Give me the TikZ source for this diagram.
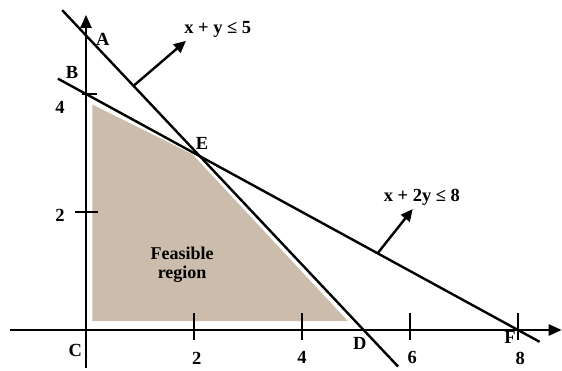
\documentclass[tikz,border=0pt]{standalone}
\usepackage{fontspec}
\setmainfont{Liberation Serif}
\usetikzlibrary{arrows.meta}
\definecolor{feas}{RGB}{203,188,172}
\begin{document}
\begin{tikzpicture}[x=54pt,y=59pt,
  ln/.style={line width=2.4pt},
  ax/.style={line width=2.4pt,-{Triangle[length=13pt,width=11pt]}},
  lbl/.style={font=\bfseries\fontsize{18.5}{20}\selectfont,inner sep=0pt},
  tk/.style={line width=2.2pt}]
\useasboundingbox (-86pt,-40pt) rectangle (476pt,330pt);
% feasible region
\fill[feas] (0.12,0.15) -- (0.12,3.82) -- (1.97,2.98) -- (4.85,0.15) -- cycle;
% axes
\coordinate (xs) at (-1.41,0);
\coordinate (xe) at (8.81,0);
\coordinate (ys) at (0,-0.65);
\coordinate (ye) at (0,5.34);
\draw[ax] (xs) -- (xe);
\draw[ax] (ys) -- (ye);
% ticks
\foreach \i in {2,4,6,8}{
  \coordinate (tx\i a) at (\i,0.28);
  \coordinate (tx\i b) at (\i,-0.17);
  \draw[tk] (tx\i a) -- (tx\i b);
}
\coordinate (ty2a) at (-0.2,2); \coordinate (ty2b) at (0.22,2);
\draw[tk] (ty2a) -- (ty2b);
\coordinate (ty4a) at (-0.08,4); \coordinate (ty4b) at (0.2,4);
\draw[tk] (ty4a) -- (ty4b);
% constraint lines
\coordinate (l1s) at (-0.44,5.42);
\coordinate (l1e) at (5.78,-0.62);
\draw[ln] (l1s) -- (l1e);
\coordinate (l2s) at (-0.52,4.26);
\coordinate (l2e) at (8.4,-0.2);
\draw[ln] (l2s) -- (l2e);
% direction arrows
\coordinate (a1s) at (0.87,4.13);
\coordinate (a1e) at (1.85,4.9);
\draw[ln,-{Triangle[length=12pt,width=11pt]}] (a1s) -- (a1e);
\coordinate (a2s) at (5.4,1.3);
\coordinate (a2e) at (6.05,2.05);
\draw[ln,-{Triangle[length=12pt,width=11pt]}] (a2s) -- (a2e);
% labels
\node[lbl] (c1) at (2.44,5.1) {x + y ≤ 5};
\node[lbl] (c2) at (6.22,2.24) {x + 2y ≤ 8};
\node[lbl] (A) at (0.31,4.92) {A};
\node[lbl] (B) at (-0.26,4.36) {B};
\node[lbl] (y4) at (-0.48,3.78) {4};
\node[lbl] (E) at (2.15,3.17) {E};
\node[lbl] (y2) at (-0.48,1.95) {2};
\node[lbl] (C) at (-0.2,-0.34) {C};
\node[lbl] (x2) at (2.05,-0.48) {2};
\node[lbl] (x4) at (4.0,-0.46) {4};
\node[lbl] (D) at (5.07,-0.22) {D};
\node[lbl] (x6) at (6.04,-0.46) {6};
\node[lbl] (F) at (7.85,-0.12) {F};
\node[lbl] (x8) at (8.04,-0.48) {8};
\node[lbl,align=center,font=\bfseries\fontsize{18}{19}\selectfont] (fr) at (1.78,1.1) {Feasible\\region};
\end{tikzpicture}
\end{document}
